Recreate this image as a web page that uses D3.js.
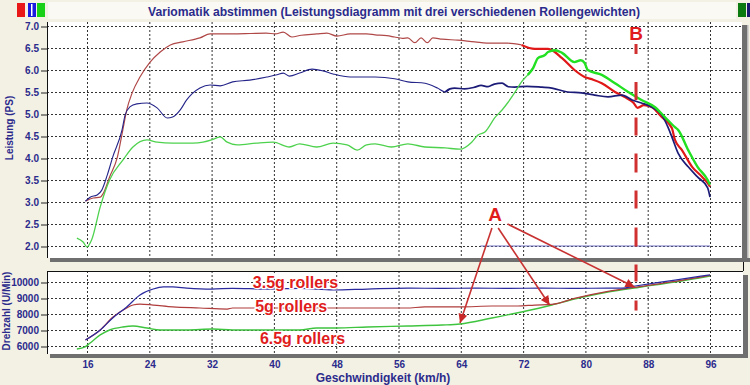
<!DOCTYPE html>
<html><head><meta charset="utf-8">
<script src="https://cdn.jsdelivr.net/npm/d3@7/dist/d3.min.js"></script>
<style>
body{margin:0;background:#f3f0e4;}
svg{display:block;font-family:"Liberation Sans",Arial,sans-serif;}
</style></head><body>
<svg id="c" width="750" height="385"></svg>
<script>
// ---------- data ----------
const titleText = "Variomatik abstimmen (Leistungsdiagramm mit drei verschiedenen Rollengewichten)";
const speedTicks = [16,24,32,40,48,56,64,72,80,88,96];
const powerTicks = [2.0,2.5,3.0,3.5,4.0,4.5,5.0,5.5,6.0,6.5,7.0];
const rpmTicks = [6000,7000,8000,9000,10000];

// Leistung (PS) vs Geschwindigkeit (km/h)
const powerRed = [[15.8,3.02],[16.8,3.09],[17.7,3.11],[18.1,3.2],[18.9,3.57],[19.9,4.02],[20.6,4.64],[21.1,5.09],[21.8,5.48],[22.8,5.84],[24.1,6.18],[25.4,6.41],[26.7,6.57],[28.3,6.64],[30.5,6.73],[31.8,6.82],[34.7,6.82],[37,6.83],[39,6.84],[40.2,6.82],[41.2,6.86],[42.3,6.75],[43.5,6.79],[45.5,6.82],[46.8,6.84],[48.1,6.77],[49.8,6.82],[51.9,6.82],[53,6.80],[54.5,6.78],[55.5,6.75],[56.5,6.72],[57.2,6.73],[58.1,6.62],[58.9,6.73],[59.7,6.62],[60.4,6.73],[61.6,6.70],[63.6,6.68],[65.8,6.64],[68,6.61],[70,6.61],[71.8,6.57],[73.5,6.48],[75.2,6.48],[77,6.27],[78.6,6.0],[79.9,5.84],[81,5.78],[82.1,5.70],[83.8,5.5],[85,5.39],[86.2,5.25],[86.7,5.14],[87.5,5.2],[88.5,5.16],[89.8,4.93],[91.1,4.68],[91.5,4.41],[92.4,4.18],[93.7,3.8],[95,3.57],[95.7,3.43],[96,3.35]];
const powerBlue = [[15.8,3.02],[16.4,3.11],[17.3,3.16],[17.9,3.27],[18.6,3.61],[19.3,4.02],[20.5,4.64],[20.9,4.98],[21.5,5.16],[22.4,5.23],[23.7,5.25],[25,5.14],[26.3,4.91],[27,4.93],[28,5.1],[28.8,5.32],[30.5,5.59],[31.8,5.66],[33.1,5.64],[34.7,5.73],[36.9,5.77],[39.1,5.84],[40.4,5.89],[41.2,5.93],[42,5.86],[43.3,5.93],[44.9,6.02],[46.3,5.98],[47.6,5.91],[49.8,5.84],[52,5.84],[53,5.84],[55.5,5.8],[57.2,5.73],[59.4,5.7],[61,5.59],[62,5.5],[62.6,5.57],[63.2,5.59],[64.5,5.57],[65.8,5.61],[66.6,5.65],[67.5,5.62],[68.3,5.68],[69.3,5.70],[70.1,5.62],[70.9,5.61],[72.5,5.63],[74.4,5.61],[75.7,5.59],[77.7,5.5],[79.5,5.48],[81.2,5.43],[82.9,5.39],[84.7,5.43],[86,5.32],[87.2,5.25],[88.5,5.16],[89.8,4.98],[90.6,4.7],[91.1,4.48],[91.9,4.11],[93.2,3.8],[94.4,3.57],[95.7,3.32],[96,3.11]];
const powerGreen = [[14.7,2.18],[15.5,2.09],[16,1.98],[16.6,2.14],[17.7,2.89],[18.9,3.5],[20.6,3.95],[21.9,4.25],[23.7,4.41],[25,4.36],[27,4.34],[29.6,4.34],[30.9,4.36],[32,4.41],[33.1,4.48],[34,4.36],[35.3,4.3],[37.8,4.34],[39.9,4.36],[42,4.25],[43.3,4.32],[45.5,4.25],[47.6,4.34],[49.4,4.3],[50.7,4.18],[51.9,4.3],[53,4.32],[55.1,4.25],[57.2,4.32],[59.4,4.25],[62,4.23],[63.9,4.2],[65.4,4.36],[66.2,4.52],[67.1,4.59],[67.5,4.68],[68.3,4.9],[69.3,5.09],[70,5.25],[70.9,5.48],[71.8,5.73],[72.6,5.89],[73.3,6.05],[73.9,6.27],[74.8,6.34],[75.2,6.41],[76.1,6.45],[77,6.39],[78.6,6.18],[79.4,6.22],[79.9,6.16],[80.3,6.0],[82.1,5.89],[83.8,5.70],[85.5,5.5],[87.2,5.32],[88.9,5.16],[90.2,4.93],[91.5,4.7],[91.9,4.64],[93.2,4.18],[94.4,3.8],[95.7,3.5],[96,3.39]];
const powerFaint = [[66.5,2.0],[96,2.0]];

// Drehzahl (U/Min) vs Geschwindigkeit (km/h)
const rpmBlue = [[15.8,6375],[17.7,7000],[19.3,7750],[21.1,8440],[22.8,9190],[24.5,9560],[25.8,9690],[27,9690],[28.8,9620],[32,9560],[34.7,9600],[39,9560],[43.3,9600],[47.6,9500],[52,9560],[57.2,9620],[61.6,9600],[66,9620],[70,9600],[74.4,9620],[78.6,9600],[82.9,9620],[84.7,9620],[86.4,9750],[91.5,10120],[96,10450]];
const rpmRed = [[15.8,6375],[17.7,7000],[19.3,7800],[21.1,8375],[21.9,8560],[22.8,8620],[24.5,8560],[27,8440],[30.5,8375],[34,8310],[34.7,8375],[39,8375],[43.3,8375],[47.6,8375],[53,8375],[57,8375],[59.4,8440],[64,8440],[68,8500],[71.3,8500],[73.5,8560],[75.7,8600],[78.6,8975],[82.9,9410],[87.2,9725],[91.5,10035],[96,10410]];
const rpmGreen = [[14.7,5810],[15.75,5940],[16.4,6190],[17.7,6690],[18.9,7000],[20.6,7190],[21.9,7250],[23.7,7125],[25.4,7000],[28.8,7000],[32.2,7060],[34.7,7000],[40,7000],[43.3,7000],[45.5,7125],[48,7125],[52,7190],[57.2,7250],[61.6,7310],[63.9,7375],[68,7750],[71.8,8125],[75.7,8560],[78.6,8940],[82.9,9375],[87.2,9690],[91.5,10000],[96,10375]];

const rollerLabels = ["3.5g rollers","5g rollers","6.5g rollers"];

// ---------- drawing ----------
const svg = d3.select('#c');
const x = d3.scaleLinear().domain([16,96]).range([87,710]);
const yP = d3.scaleLinear().domain([2,7]).range([246,26]);
const yR = d3.scaleLinear().domain([6000,10000]).range([346,282]);
const T = {x0:47,x1:742,y0:22,y1:258};
const B = {x0:47,x1:743,y0:271,y1:354};
const navy = "#2b2b8c";

// header boxes
svg.append('rect').attr('x',48).attr('y',2).attr('width',688).attr('height',17).attr('fill','#faf9f3');
[['#e81818',17],['#1a1ae0',28],['#18d018',37]].forEach(([c,xx])=>{
  svg.append('rect').attr('x',xx).attr('y',3).attr('width',8).attr('height',14).attr('fill',c);
});
svg.append('rect').attr('x',31).attr('y',4).attr('width',1.5).attr('height',12).attr('fill','#fff');
svg.append('rect').attr('x',738).attr('y',3).attr('width',8).attr('height',14).attr('fill','#0b7a10');
svg.append('rect').attr('x',747).attr('y',3).attr('width',3).attr('height',14).attr('fill','#1a1a70');

svg.append('text').attr('x',394).attr('y',16).attr('text-anchor','middle')
  .attr('font-size',12).attr('font-weight','bold').attr('fill',navy)
  .attr('textLength',492).attr('lengthAdjust','spacingAndGlyphs').text(titleText);

// plot backgrounds
svg.append('rect').attr('x',T.x0).attr('y',T.y0).attr('width',T.x1-T.x0).attr('height',T.y1-T.y0).attr('fill','#fff');
svg.append('rect').attr('x',B.x0).attr('y',B.y0).attr('width',B.x1-B.x0).attr('height',B.y1-B.y0).attr('fill','#fff');

// grids
function vgrid(p){
  svg.append('g').selectAll('line').data(speedTicks).join('line')
   .attr('x1',d=>x(d)+0.5).attr('x2',d=>x(d)+0.5).attr('y1',p.y0).attr('y2',p.y1)
   .attr('stroke','#333').attr('stroke-dasharray','2,2');
}
vgrid(T); vgrid(B);
svg.append('g').selectAll('line').data(powerTicks).join('line')
  .attr('x1',T.x0).attr('x2',T.x1).attr('y1',d=>Math.round(yP(d))+0.5).attr('y2',d=>Math.round(yP(d))+0.5)
  .attr('stroke','#333').attr('stroke-dasharray','2,2');
svg.append('g').selectAll('line').data(rpmTicks).join('line')
  .attr('x1',B.x0).attr('x2',B.x1).attr('y1',d=>Math.round(yR(d))+0.5).attr('y2',d=>Math.round(yR(d))+0.5)
  .attr('stroke','#333').attr('stroke-dasharray','2,2');

// y axes
function styleAxis(g){
  g.select('.domain').remove();
  g.selectAll('.tick line').attr('stroke','#222');
  g.selectAll('.tick text').attr('fill',navy).attr('font-size',10).attr('font-weight','bold')
   .attr('font-family','"Liberation Sans",Arial,sans-serif');
}
svg.append('g').attr('transform',`translate(${T.x0},0.5)`)
  .call(d3.axisLeft(yP).tickValues(powerTicks).tickFormat(d3.format('.1f')).tickSize(6).tickPadding(2))
  .call(styleAxis);
svg.append('g').attr('transform',`translate(${B.x0},0.5)`)
  .call(d3.axisLeft(yR).tickValues(rpmTicks).tickFormat(d3.format('d')).tickSize(6).tickPadding(2))
  .call(styleAxis);
// x axis labels
svg.append('g').attr('transform',`translate(0.5,${B.y1+4})`)
  .call(d3.axisBottom(x).tickValues(speedTicks).tickSize(0).tickPadding(3))
  .call(styleAxis);

// axis lines
svg.append('line').attr('x1',T.x0+0.5).attr('x2',T.x0+0.5).attr('y1',T.y0).attr('y2',T.y1).attr('stroke','#111');
svg.append('line').attr('x1',B.x0+0.5).attr('x2',B.x0+0.5).attr('y1',B.y0).attr('y2',B.y1).attr('stroke','#111');
svg.append('line').attr('x1',B.x0).attr('x2',B.x1).attr('y1',B.y0+0.5).attr('y2',B.y0+0.5).attr('stroke','#111');
svg.append('line').attr('x1',743.5).attr('x2',743.5).attr('y1',262).attr('y2',271).attr('stroke','#111');

// 3D bars
function bar(xx,yy,w,h){
  svg.append('rect').attr('x',xx).attr('y',yy).attr('width',w).attr('height',h).attr('fill','#6f6f6f');
}
bar(50,258,700,4); bar(742,25,6,233); bar(743,275,5,79); bar(50,354,698,4);
svg.append('rect').attr('x',747).attr('y',25).attr('width',1.5).attr('height',233).attr('fill','#b8b8b8');

// axis titles
svg.append('text').attr('transform','translate(13,128) rotate(-90)').attr('text-anchor','middle')
  .attr('font-size',10).attr('font-weight','bold').attr('fill',navy).text('Leistung (PS)');
svg.append('text').attr('transform','translate(10,311) rotate(-90)').attr('text-anchor','middle')
  .attr('font-size',10).attr('font-weight','bold').attr('fill',navy).text('Drehzahl (U/Min)');
svg.append('text').attr('x',383).attr('y',382).attr('text-anchor','middle')
  .attr('font-size',12).attr('font-weight','bold').attr('fill',navy).text('Geschwindigkeit (km/h)');

// series
const lineP = d3.line().x(d=>x(d[0])).y(d=>yP(d[1])).curve(d3.curveMonotoneX);
const lineR = d3.line().x(d=>x(d[0])).y(d=>yR(d[1])).curve(d3.curveMonotoneX);
function path(data,gen,color,w){
  svg.append('path').datum(data).attr('d',gen).attr('fill','none').attr('stroke',color)
    .attr('stroke-width',w).attr('stroke-linejoin','round');
}
path(powerFaint,lineP,'#7070c0',1);
path(powerRed.filter(d=>d[0]<=72.5),lineP,'#b04848',1.2);
path(powerRed.filter(d=>d[0]>=71.8),lineP,'#e01818',2.2);
path(powerBlue.filter(d=>d[0]<=62.6),lineP,'#25258a',1.1);
path(powerBlue.filter(d=>d[0]>=62),lineP,'#1c1c78',1.7);
path(powerGreen.filter(d=>d[0]<=73.3),lineP,'#4ed24e',1.3);
path(powerGreen.filter(d=>d[0]>=72.6),lineP,'#22e022',2.4);

path(rpmGreen,lineR,'#3ec43e',1.4);
path(rpmRed,lineR,'#b03c3c',1.2);
path(rpmBlue,lineR,'#2a2a9e',1.2);

// annotations
const red = '#e01c1c';
const speedB = 86.5;
svg.append('line').attr('x1',x(speedB)).attr('x2',x(speedB)).attr('y1',44).attr('y2',318)
  .attr('stroke','#d03030').attr('stroke-width',3).attr('stroke-dasharray','10,28,18,17.5,18,18,19,18,18,19,19,18,17,19');
svg.append('text').attr('x',x(speedB)).attr('y',40).attr('text-anchor','middle')
  .attr('font-size',19).attr('font-weight','bold').attr('fill',red).text('B');

const defs = svg.append('defs');
defs.append('marker').attr('id','ah').attr('viewBox','0 0 10 10').attr('refX',10).attr('refY',5)
  .attr('markerWidth',13).attr('markerHeight',9).attr('markerUnits','userSpaceOnUse').attr('orient','auto')
  .append('path').attr('d','M0,0L10,5L0,10z').attr('fill','#c82828');
const arrowsA = [
  {from:[68.0,2.41], to:[63.9,7440]},
  {from:[68.8,2.41], to:[75.4,8560]},
  {from:[70.0,2.50], to:[86.3,9690]}
];
svg.append('g').selectAll('line').data(arrowsA).join('line')
  .attr('x1',d=>x(d.from[0])).attr('y1',d=>yP(d.from[1]))
  .attr('x2',d=>x(d.to[0])).attr('y2',d=>yR(d.to[1]))
  .attr('stroke','#c83232').attr('stroke-width',1.6).attr('marker-end','url(#ah)');
svg.append('text').attr('x',x(68.4)).attr('y',yP(2.57)).attr('text-anchor','middle')
  .attr('font-size',19).attr('font-weight','bold').attr('fill',red).text('A');

const rollerPos = [[37.3,9620],[37.6,8125],[38.2,6125]];
svg.append('g').selectAll('text').data(rollerLabels).join('text')
  .attr('x',(d,i)=>x(rollerPos[i][0])).attr('y',(d,i)=>yR(rollerPos[i][1]))
  .attr('font-size',16).attr('font-weight','bold').attr('fill',red)
  .attr('stroke','#fff').attr('stroke-width',2.5).attr('paint-order','stroke').text(d=>d);
</script></body></html>
